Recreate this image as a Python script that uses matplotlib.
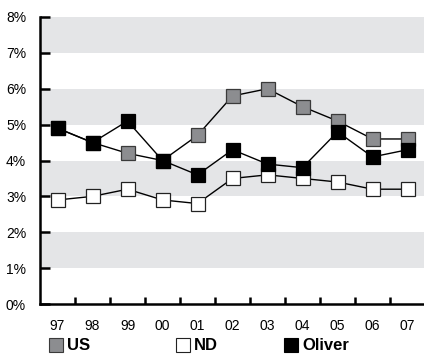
import numpy as np
import matplotlib
matplotlib.use('Agg')
import matplotlib.pyplot as plt
from matplotlib.lines import Line2D

plt.rcParams['font.family'] = ['Liberation Sans Narrow', 'Liberation Sans', 'DejaVu Sans']

years = ['97', '98', '99', '00', '01', '02', '03', '04', '05', '06', '07']
us = [4.9, 4.5, 4.2, 4.0, 4.7, 5.8, 6.0, 5.5, 5.1, 4.6, 4.6]
nd = [2.9, 3.0, 3.2, 2.9, 2.8, 3.5, 3.6, 3.5, 3.4, 3.2, 3.2]
oliver = [4.9, 4.5, 5.1, 4.0, 3.6, 4.3, 3.9, 3.8, 4.8, 4.1, 4.3]
yticks = [0, 1, 2, 3, 4, 5, 6, 7, 8]
series_names = ['US', 'ND', 'Oliver']

fig = plt.figure(figsize=(4.24, 3.58), dpi=100)
ax = fig.add_axes([40/424, 54/358, 384/424, 287/358])

x = np.arange(len(years)) + 0.5
ax.set_xlim(0, len(years) - 0.03)
ax.set_ylim(0, 8)

# grey bands
for lo in [1, 3, 5, 7]:
    ax.axhspan(lo, lo + 1, color='#e4e5e7', lw=0, zorder=0)

ms = 9.5
styles = [
    dict(mfc='#8c8d90', mec='#3a3a3a'),
    dict(mfc='white', mec='#222222'),
    dict(mfc='black', mec='black'),
]
ax.plot(x, nd, color='black', lw=1, marker='s', ms=ms, mew=0.9, zorder=3, **styles[1])
ax.plot(x, us, color='black', lw=1, marker='s', ms=ms, mew=0.9, zorder=4, **styles[0])
ax.plot(x, oliver, color='black', lw=1, marker='s', ms=ms, mew=0.9, zorder=5, **styles[2])

for s in ['top', 'right']:
    ax.spines[s].set_visible(False)
for s in ['left', 'bottom']:
    ax.spines[s].set_linewidth(1.8)

ax.set_yticks(yticks)
ax.set_yticklabels(['{}%'.format(v) for v in yticks], fontsize=10)
ax.tick_params(axis='y', direction='in', length=7, width=1.8, pad=10)

ax.set_xticks(np.arange(1, len(years)))
ax.set_xticklabels([])
ax.tick_params(axis='x', which='major', direction='in', length=5, width=1.8)
ax.set_xticks(x, minor=True)
ax.set_xticklabels(years, minor=True, fontsize=10)
ax.tick_params(axis='x', which='minor', length=0, pad=11)

# legend row along the bottom
leg_x = [56/424, 183/424, 291/424]
leg_y = 13/358
for lx, name, st in zip(leg_x, series_names, styles):
    fig.add_artist(Line2D([lx], [leg_y], transform=fig.transFigure, ls='none',
                          marker='s', ms=9.5, mew=0.8, **st))
    fig.text(lx + 11/424, leg_y, name, fontsize=12, fontweight='bold',
             ha='left', va='center')

fig.savefig('out.png', dpi=100)
